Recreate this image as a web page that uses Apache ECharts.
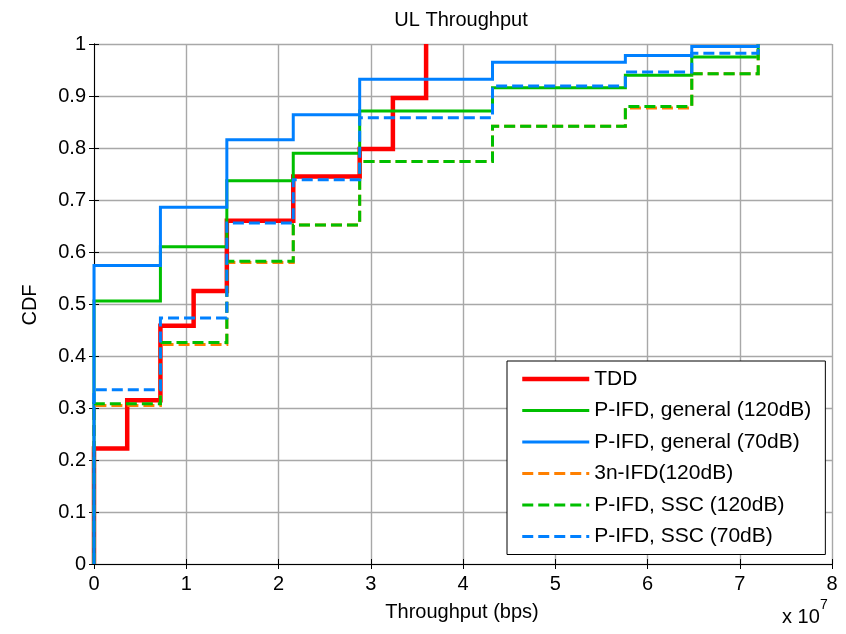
<!DOCTYPE html>
<html>
<head>
<meta charset="utf-8">
<title>UL Throughput</title>
<script src="https://cdn.jsdelivr.net/npm/echarts@6/dist/echarts.min.js"></script>
<style>
  html, body { margin: 0; padding: 0; background: #fff; }
  #chart { width: 846px; height: 634px; }
</style>
</head>
<body>
<div id="chart"></div>
<script>
// Throughput sample points (bps) at which each empirical CDF steps up
const tddSteps  = [0, 0, 0.36e7, 0.72e7, 1.08e7, 1.44e7, 2.16e7, 2.88e7, 3.24e7, 3.6e7];
const ifdSteps  = [0, 0, 0.72e7, 1.44e7, 2.16e7, 2.88e7, 4.32e7, 5.76e7, 6.48e7, 7.2e7];

// CDF values reached at each step
const cdfTDD        = [0, 0.222, 0.315, 0.458, 0.525, 0.660, 0.745, 0.798, 0.896, 1.0];
const cdfGeneral120 = [0, 0.506, 0.610, 0.737, 0.790, 0.871, 0.916, 0.940, 0.975, 1.0];
const cdfGeneral70  = [0, 0.574, 0.686, 0.816, 0.864, 0.932, 0.965, 0.978, 0.995, 1.0];
const cdf3n120      = [0, 0.305, 0.422, 0.580, 0.652, 0.774, 0.842, 0.877, 0.943, 1.0];
const cdfSSC120     = [0, 0.308, 0.426, 0.582, 0.652, 0.774, 0.842, 0.880, 0.943, 1.0];
const cdfSSC70      = [0, 0.335, 0.473, 0.656, 0.739, 0.858, 0.919, 0.946, 0.982, 1.0];

const seriesNames = [
  'TDD',
  'P-IFD, general (120dB)',
  'P-IFD, general (70dB)',
  '3n-IFD(120dB)',
  'P-IFD, SSC (120dB)',
  'P-IFD, SSC (70dB)'
];

const xTicks = [0, 1, 2, 3, 4, 5, 6, 7, 8];   // axis labels, in units of 10^7 bps
const xScale = 1e7;

const FONT = 'Liberation Sans, Arial, Helvetica, sans-serif';
const RED = '#ff0000', GREEN = '#00bf00', BLUE = '#0080ff', ORANGE = '#ff8000';
const DASH = [11, 5];

function pairs(xs, ys) {
  return xs.map((x, i) => [x, ys[i]]);
}

function cdfSeries(name, xs, ys, color, width, dashed) {
  return {
    name: name,
    type: 'line',
    step: 'end',
    data: pairs(xs, ys),
    symbol: 'none',
    showSymbol: false,
    animation: false,
    clip: true,
    color: color,
    lineStyle: { color: color, width: width, type: dashed ? DASH : 'solid', cap: 'butt', join: 'miter' },
    emphasis: { disabled: true }
  };
}

const chart = echarts.init(document.getElementById('chart'), null, { renderer: 'canvas' });

const gridLine = { show: true, lineStyle: { color: '#a8a8a8', width: 1.4 } };
const plainAxisLine = { show: true, lineStyle: { color: '#000', width: 1 } };
const innerTick = { show: true, inside: true, length: 5, lineStyle: { color: '#000', width: 1 } };

chart.setOption({
  backgroundColor: '#fff',
  animation: false,
  grid: { left: 94, top: 44, width: 738, height: 520, containLabel: false },
  xAxis: [
    {
      type: 'value', position: 'bottom',
      min: xTicks[0] * xScale, max: xTicks[xTicks.length - 1] * xScale, interval: xScale,
      axisLine: plainAxisLine, axisTick: innerTick, splitLine: gridLine,
      axisLabel: {
        margin: 10, color: '#000', fontSize: 20, fontFamily: FONT,
        formatter: v => String(Math.round(v / xScale))
      }
    },
    {
      type: 'value', position: 'top',
      min: xTicks[0] * xScale, max: xTicks[xTicks.length - 1] * xScale, interval: xScale,
      axisLine: plainAxisLine, axisTick: innerTick, splitLine: { show: false },
      axisLabel: { show: false }
    }
  ],
  yAxis: [
    {
      type: 'value', position: 'left', min: 0, max: 1, interval: 0.1,
      axisLine: plainAxisLine, axisTick: innerTick, splitLine: gridLine,
      axisLabel: { margin: 8, color: '#000', fontSize: 20, fontFamily: FONT }
    },
    {
      type: 'value', position: 'right', min: 0, max: 1, interval: 0.1,
      axisLine: plainAxisLine, axisTick: innerTick, splitLine: { show: false },
      axisLabel: { show: false }
    }
  ],
  legend: {
    orient: 'vertical',
    left: 507, top: 361,
    padding: [7, 14, 7, 13],
    itemWidth: 67, itemHeight: 14, itemGap: 9.5,
    backgroundColor: '#fff',
    borderColor: '#000', borderWidth: 1, borderRadius: 0,
    selectedMode: false,
    // plain line samples only, no marker in the middle
    itemStyle: { opacity: 0, borderWidth: 0 },
    lineStyle: { width: 'inherit', type: 'inherit', color: 'inherit' },
    textStyle: { color: '#000', fontSize: 21, lineHeight: 22, fontFamily: FONT },
    data: seriesNames
  },
  series: [
    cdfSeries(seriesNames[0], tddSteps, cdfTDD, RED, 4.5, false),
    cdfSeries(seriesNames[1], ifdSteps, cdfGeneral120, GREEN, 3, false),
    cdfSeries(seriesNames[2], ifdSteps, cdfGeneral70, BLUE, 3, false),
    cdfSeries(seriesNames[3], ifdSteps, cdf3n120, ORANGE, 3, true),
    cdfSeries(seriesNames[4], ifdSteps, cdfSSC120, GREEN, 3, true),
    cdfSeries(seriesNames[5], ifdSteps, cdfSSC70, BLUE, 3, true)
  ],
  graphic: [
    {
      type: 'text', x: 461, y: 20, silent: true,
      style: { text: 'UL Throughput', fontSize: 20, fontFamily: FONT, fill: '#000', align: 'center', verticalAlign: 'middle' }
    },
    {
      type: 'text', x: 462, y: 612, silent: true,
      style: { text: 'Throughput (bps)', fontSize: 20, fontFamily: FONT, fill: '#000', align: 'center', verticalAlign: 'middle' }
    },
    {
      type: 'text', x: 30, y: 305, rotation: Math.PI / 2, silent: true,
      style: { text: 'CDF', fontSize: 20, fontFamily: FONT, fill: '#000', align: 'center', verticalAlign: 'middle' }
    },
    {
      type: 'text', x: 782, y: 617, silent: true,
      style: { text: 'x 10', fontSize: 20, fontFamily: FONT, fill: '#000', align: 'left', verticalAlign: 'middle' }
    },
    {
      type: 'text', x: 820, y: 605, silent: true,
      style: { text: '7', fontSize: 14, fontFamily: FONT, fill: '#000', align: 'left', verticalAlign: 'middle' }
    }
  ]
});
</script>
</body>
</html>
